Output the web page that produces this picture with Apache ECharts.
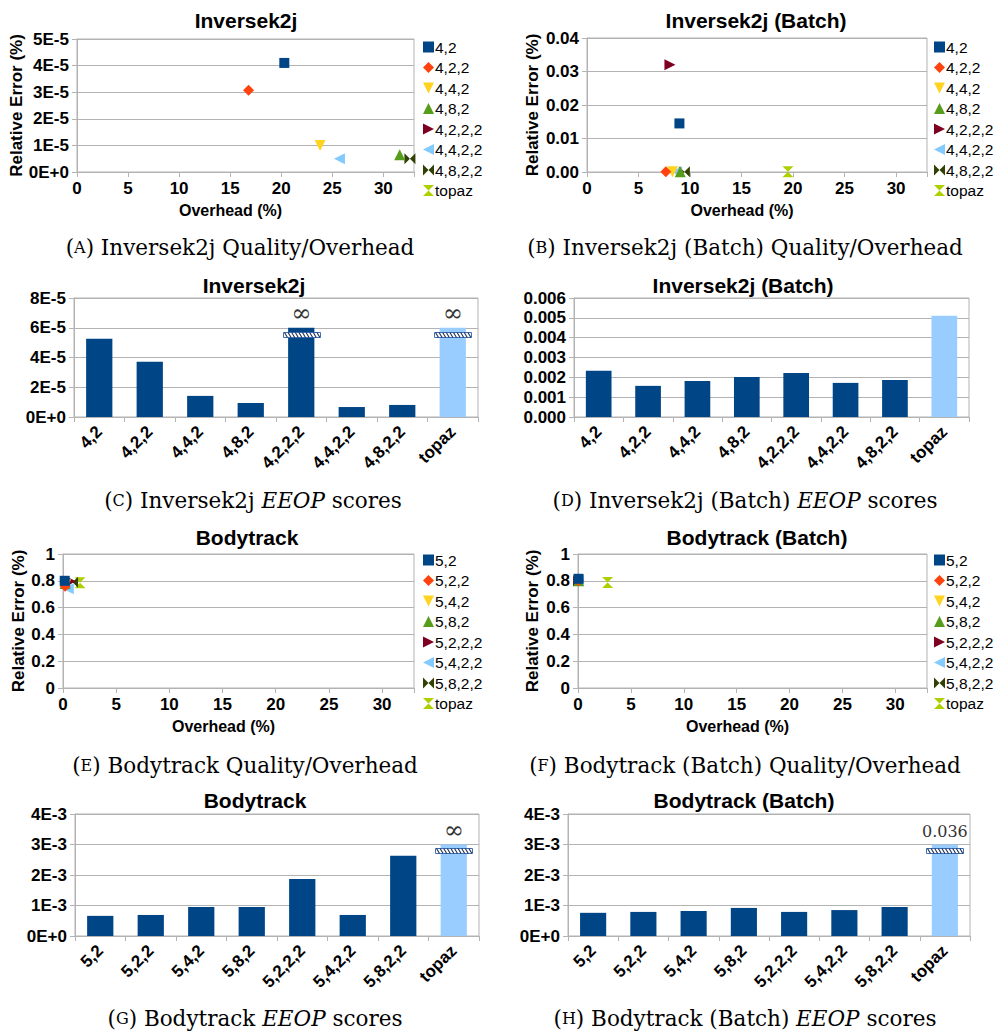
<!DOCTYPE html>
<html>
<head>
<meta charset="utf-8">
<script src="https://cdn.jsdelivr.net/npm/echarts@6/dist/echarts.min.js"></script>
<style>
  html, body { margin: 0; padding: 0; background: #ffffff; }
  #chart { width: 994px; height: 1033px; }
</style>
</head>
<body>
<div id="chart"></div>
<script>
// ---- Inversek2j: quality / overhead (unbatched and batched) ----
const invConfigs = ['4,2', '4,2,2', '4,4,2', '4,8,2', '4,2,2,2', '4,4,2,2', '4,8,2,2', 'topaz'];
const invOverhead = [20.3, 16.8, 23.8, 31.6, null, 25.7, 32.6, null];
const invError = [4.1e-5, 3.07e-5, 1.0e-5, 0.65e-5, null, 0.5e-5, 0.5e-5, null];
const invBatchOverhead = [8.97, 7.65, 8.3, 9.05, 8.05, 8.7, 9.45, 19.5];
const invBatchError = [0.0145, 0.0001, 0.0001, 0.0001, 0.032, 0.0001, 0.0001, 0.0001];

// ---- Inversek2j: EEOP scores ----
const invEeop = [5.26e-5, 3.71e-5, 1.42e-5, 0.94e-5, Infinity, 0.67e-5, 0.81e-5, Infinity];
const invBatchEeop = [2.33e-3, 1.57e-3, 1.82e-3, 2.02e-3, 2.22e-3, 1.72e-3, 1.87e-3, 5.11e-3];

// ---- Bodytrack: quality / overhead ----
const bodyConfigs = ['5,2', '5,2,2', '5,4,2', '5,8,2', '5,2,2,2', '5,4,2,2', '5,8,2,2', 'topaz'];
const bodyOverhead = [0.16, 0.2, 0.25, 0.2, 0.7, 0.5, 0.9, 1.6];
const bodyError = [0.80, 0.76, 0.77, 0.78, 0.797, 0.74, 0.79, 0.785];
const bodyBatchOverhead = [0.05, 0.05, 0.05, 0.05, 0.05, 0.05, 0.05, 2.8];
const bodyBatchError = [0.815, 0.80, 0.80, 0.80, 0.80, 0.80, 0.80, 0.787];

// ---- Bodytrack: EEOP scores ----
const bodyEeop = [0.66e-3, 0.69e-3, 0.95e-3, 0.95e-3, 1.87e-3, 0.69e-3, 2.63e-3, Infinity];
const bodyBatchEeop = [0.76e-3, 0.79e-3, 0.82e-3, 0.92e-3, 0.79e-3, 0.85e-3, 0.95e-3, 0.036];

// Axis tick values
const overheadTicks = [0, 5, 10, 15, 20, 25, 30];

const SANS = '"Liberation Sans", Arial, sans-serif';
const SERIF = '"DejaVu Serif", serif';
const GRID_GRAY = '#b3b3b3';
const NAVY = '#004586';
const TOPAZ_BAR = '#99ccff';
const PALETTE = ['#004586', '#ff420e', '#ffd320', '#579d1c', '#7e0021', '#83caff', '#314004', '#aecf00'];
const SYMBOLS = [
  'rect',
  'diamond',
  'path://M0,0 L10,0 L5,10 Z',
  'path://M5,0 L10,10 L0,10 Z',
  'path://M0,0 L10,5 L0,10 Z',
  'path://M10,0 L0,5 L10,10 Z',
  'path://M0,0 L5,5 L0,10 Z M10,0 L5,5 L10,10 Z',
  'path://M0,0 L10,0 L5,5 Z M0,10 L10,10 L5,5 Z'
];
const SYMBOL_SIZES = [10, 11, 11, 11, 11, 11, 11, 11];

// Plot rectangles of the eight panels
const grids = [
  { left: 77, top: 39, width: 337, height: 133 },   // A
  { left: 587, top: 38, width: 340, height: 134 },  // B
  { left: 74, top: 298, width: 404, height: 119 },  // C
  { left: 574, top: 298, width: 395, height: 119 }, // D
  { left: 63, top: 554, width: 351, height: 134 },  // E
  { left: 578, top: 554, width: 349, height: 134 }, // F
  { left: 75, top: 814, width: 404, height: 122 },  // G
  { left: 568, top: 814, width: 402, height: 122 }  // H
].map(g => Object.assign({ show: true, borderColor: GRID_GRAY, borderWidth: 1, containLabel: false }, g));

const tickLabel = { color: '#000', fontFamily: SANS, fontWeight: 'bold', fontSize: 17 };

function overheadAxis(gridIndex, nameShift) {
  return {
    gridIndex, type: 'value', min: 0, max: 33, interval: 5,
    name: 'Overhead (%)', nameLocation: 'middle', nameGap: 30,
    nameTextStyle: { color: '#000', fontFamily: SANS, fontWeight: 'bold', fontSize: 16, padding: [0, nameShift, 0, 0] },
    axisLine: { show: true, lineStyle: { color: GRID_GRAY } },
    axisTick: { show: true, length: 5, lineStyle: { color: GRID_GRAY } },
    axisLabel: Object.assign({ margin: 8, formatter: v => (overheadTicks.indexOf(v) >= 0 ? String(v) : '') }, tickLabel),
    splitLine: { show: false }
  };
}

function errorAxis(gridIndex, max, interval, fmt, nameGap) {
  return {
    gridIndex, type: 'value', min: 0, max, interval,
    name: 'Relative Error (%)', nameLocation: 'middle', nameGap,
    nameTextStyle: { color: '#000', fontFamily: SANS, fontWeight: 'bold', fontSize: 17 },
    axisLine: { show: true, lineStyle: { color: GRID_GRAY } },
    axisTick: { show: true, length: 5, lineStyle: { color: GRID_GRAY } },
    axisLabel: Object.assign({ margin: 8, formatter: fmt }, tickLabel),
    splitLine: { show: true, lineStyle: { color: GRID_GRAY } }
  };
}

function categoryAxis(gridIndex, cats) {
  return {
    gridIndex, type: 'category', data: cats, boundaryGap: true,
    axisLine: { show: true, lineStyle: { color: GRID_GRAY } },
    axisTick: { show: true, length: 5, alignWithLabel: false, lineStyle: { color: GRID_GRAY } },
    axisLabel: Object.assign({ rotate: 45, margin: 12, interval: 0 }, tickLabel),
    splitLine: { show: false }
  };
}

function scoreAxis(gridIndex, max, interval, fmt) {
  return {
    gridIndex, type: 'value', min: 0, max, interval,
    axisLine: { show: true, lineStyle: { color: GRID_GRAY } },
    axisTick: { show: true, length: 5, lineStyle: { color: GRID_GRAY } },
    axisLabel: Object.assign({ margin: 8, formatter: fmt }, tickLabel),
    splitLine: { show: true, lineStyle: { color: GRID_GRAY } }
  };
}

const sciFmt = exp => v => (v === 0 ? '0E+0' : Math.round(v * Math.pow(10, exp)) + 'E-' + exp);

const xAxes = [
  overheadAxis(0, 30), overheadAxis(1, 30),
  categoryAxis(2, invConfigs), categoryAxis(3, invConfigs),
  overheadAxis(4, 30), overheadAxis(5, 30),
  categoryAxis(6, bodyConfigs), categoryAxis(7, bodyConfigs)
];
const yAxes = [
  errorAxis(0, 5e-5, 1e-5, sciFmt(5), 48),
  errorAxis(1, 0.04, 0.01, v => v.toFixed(2), 46),
  scoreAxis(2, 8e-5, 2e-5, sciFmt(5)),
  scoreAxis(3, 0.006, 0.001, v => v.toFixed(3)),
  errorAxis(4, 1, 0.2, v => String(Math.round(v * 10) / 10), 34),
  errorAxis(5, 1, 0.2, v => String(Math.round(v * 10) / 10), 37),
  scoreAxis(6, 4e-3, 1e-3, sciFmt(3)),
  scoreAxis(7, 4e-3, 1e-3, sciFmt(3))
];

const series = [];

// Scatter panels: one series per configuration
function addScatter(axisIndex, names, xs, ys) {
  names.forEach((name, i) => {
    const pts = (xs[i] == null || ys[i] == null) ? [] : [[xs[i], ys[i]]];
    series.push({
      type: 'scatter', name, xAxisIndex: axisIndex, yAxisIndex: axisIndex,
      data: pts, symbol: SYMBOLS[i], symbolSize: SYMBOL_SIZES[i],
      itemStyle: { color: PALETTE[i], opacity: 1 },
      z: 20 - i, emphasis: { disabled: true }
    });
  });
}
addScatter(0, invConfigs, invOverhead, invError);
addScatter(1, invConfigs, invBatchOverhead, invBatchError);
addScatter(4, bodyConfigs, bodyOverhead, bodyError);
addScatter(5, bodyConfigs, bodyBatchOverhead, bodyBatchError);

// Bar panels: values above the axis break are drawn up to the break and marked
function addBars(axisIndex, values, cap, breakAt, labelFor) {
  series.push({
    type: 'bar', xAxisIndex: axisIndex, yAxisIndex: axisIndex, barWidth: '52%',
    data: values.map((v, i) => ({
      value: cap == null ? v : Math.min(v, cap),
      itemStyle: { color: i === values.length - 1 ? TOPAZ_BAR : NAVY }
    })),
    emphasis: { disabled: true }, z: 2
  });
  if (cap == null) return;
  const breaks = [];
  values.forEach((v, i) => { if (v > cap) breaks.push({ i, v }); });
  series.push({
    type: 'custom', xAxisIndex: axisIndex, yAxisIndex: axisIndex, z: 5,
    data: breaks.map(b => [b.i, cap, breakAt]),
    renderItem(params, api) {
      const b = breaks[params.dataIndex];
      const top = api.coord([api.value(0), api.value(1)]);
      const mid = api.coord([api.value(0), api.value(2)]);
      const w = 37, h = 5;
      const x0 = Math.round(mid[0] - w / 2) + 0.5, y0 = Math.round(mid[1] - h / 2) + 0.5;
      const children = [{
        type: 'rect', shape: { x: x0, y: y0, width: w, height: h },
        style: { fill: '#ffffff', stroke: '#3f6fb5', lineWidth: 1 }
      }];
      for (let sx = x0 + 1; sx < x0 + w - 3; sx += 3.6) {
        children.push({
          type: 'line', shape: { x1: sx, y1: y0, x2: sx + 3, y2: y0 + h },
          style: { stroke: '#1d2f55', lineWidth: 1.1 }
        });
      }
      const isInf = b.v === Infinity;
      children.push({
        type: 'text',
        style: {
          x: top[0], y: top[1] - (isInf ? 3 : 5), text: labelFor(b.v),
          align: 'center', verticalAlign: 'bottom',
          fill: '#333333', font: (isInf ? '24px ' : '16px ') + SERIF
        }
      });
      return { type: 'group', children };
    }
  });
}
const breakLabel = v => (v === Infinity ? '∞' : String(v));
addBars(2, invEeop, 6e-5, 5.55e-5, breakLabel);
addBars(3, invBatchEeop, null, null, breakLabel);
addBars(6, bodyEeop, 3e-3, 2.8e-3, breakLabel);
addBars(7, bodyBatchEeop, 3e-3, 2.8e-3, breakLabel);

function legendAt(left, top, names) {
  return {
    orient: 'vertical', left, top, data: names, selectedMode: false,
    itemWidth: 11, itemHeight: 11, itemGap: 4.5,
    textStyle: { color: '#000', fontFamily: SANS, fontSize: 15.5, padding: [0, 0, 0, -4] }
  };
}

// Panel titles and captions
function title(x, y, text) {
  return { type: 'text', x, y, style: { text, align: 'center', verticalAlign: 'middle', fill: '#000', font: 'bold 21px ' + SANS } };
}
const capRich = {
  p: { fontFamily: SERIF, fontSize: 21.5, color: '#000' },
  s: { fontFamily: SERIF, fontSize: 16, color: '#000' },
  i: { fontFamily: SERIF, fontSize: 21.5, fontStyle: 'italic', color: '#000' }
};
function caption(x, y, letter, before, italic, after) {
  let text = '{p|(}{s|' + letter + '}{p|) ' + before + '}';
  if (italic) text += '{i|' + italic + '}{p|' + after + '}';
  return { type: 'text', x, y, style: { text, rich: capRich, align: 'center', verticalAlign: 'middle' } };
}

const graphics = [
  title(246, 20, 'Inversek2j'),
  title(756, 20, 'Inversek2j (Batch)'),
  title(254, 285, 'Inversek2j'),
  title(743, 285, 'Inversek2j (Batch)'),
  title(247, 537, 'Bodytrack'),
  title(757, 537, 'Bodytrack (Batch)'),
  title(255, 800, 'Bodytrack'),
  title(744, 800, 'Bodytrack (Batch)'),
  caption(240, 247, 'A', 'Inversek2j Quality/Overhead'),
  caption(745, 247, 'B', 'Inversek2j (Batch) Quality/Overhead'),
  caption(253, 500, 'C', 'Inversek2j ', 'EEOP', ' scores'),
  caption(745, 500, 'D', 'Inversek2j (Batch) ', 'EEOP', ' scores'),
  caption(245, 765, 'E', 'Bodytrack Quality/Overhead'),
  caption(745, 765, 'F', 'Bodytrack (Batch) Quality/Overhead'),
  caption(255, 1018, 'G', 'Bodytrack ', 'EEOP', ' scores'),
  caption(745, 1018, 'H', 'Bodytrack (Batch) ', 'EEOP', ' scores')
];

const chart = echarts.init(document.getElementById('chart'), null, { renderer: 'svg' });
chart.setOption({
  backgroundColor: '#ffffff',
  animation: false,
  grid: grids,
  xAxis: xAxes,
  yAxis: yAxes,
  legend: [
    legendAt(418, 34, invConfigs),
    legendAt(929, 34, invConfigs),
    legendAt(418, 547, bodyConfigs),
    legendAt(929, 547, bodyConfigs)
  ],
  graphic: graphics,
  series
});
</script>
</body>
</html>
